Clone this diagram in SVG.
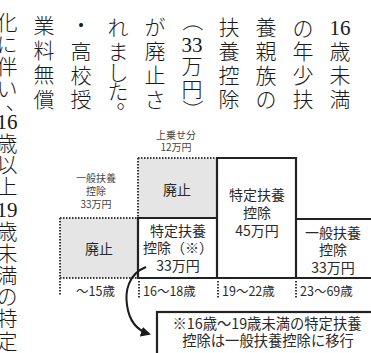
<svg xmlns="http://www.w3.org/2000/svg" width="371" height="353" viewBox="0 0 371 353">
<style>
.p{font-family:"Liberation Serif","Noto Sans CJK JP",serif;font-size:21px;font-weight:300;fill:#1a1a1a;text-anchor:middle;dominant-baseline:central}
.d{font-family:"Noto Sans CJK JP","Noto Sans",sans-serif;font-size:14px;fill:#2a2a2a;text-anchor:middle}
.s{font-size:10px;fill:#444}
.age{font-size:12.5px;text-anchor:start}
.note{font-size:14.3px}
.gray{fill:#e5e5e5;stroke:none}
.dot{stroke:#3a3a3a;stroke-width:2;stroke-dasharray:1.5 1.5;fill:none}
.solid{stroke:#222;stroke-width:2.2;fill:none}
.con{stroke:#1a1a1a;stroke-width:2;fill:none}
</style>
<defs>
<marker id="ah" viewBox="0 0 10 10" refX="8" refY="5" markerWidth="5" markerHeight="5" orient="auto" markerUnits="strokeWidth">
<path d="M0,0 L10,5 L0,10 z" fill="#1a1a1a"/>
</marker>
</defs>
<rect width="371" height="353" fill="#fff"/>

<g id="prose">
<text class="p"><tspan x="340" y="28">16</tspan><tspan x="340" y="52">歳</tspan><tspan x="340" y="76">未</tspan><tspan x="340" y="100">満</tspan></text>
<text class="p"><tspan x="303" y="29">の</tspan><tspan x="303" y="52">年</tspan><tspan x="303" y="76">少</tspan><tspan x="303" y="100">扶</tspan></text>
<text class="p"><tspan x="266" y="28">養</tspan><tspan x="266" y="52">親</tspan><tspan x="266" y="76">族</tspan><tspan x="266" y="100">の</tspan></text>
<text class="p"><tspan x="229" y="28">扶</tspan><tspan x="229" y="52">養</tspan><tspan x="229" y="76">控</tspan><tspan x="229" y="100">除</tspan></text>
<text class="p" x="192" y="21" transform="rotate(90 192 21)">（</text>
<text class="p"><tspan x="192" y="45">33</tspan><tspan x="192" y="67">万</tspan><tspan x="192" y="90">円</tspan></text>
<text class="p" x="192" y="110" transform="rotate(90 192 110)">）</text>
<text class="p"><tspan x="155" y="28">が</tspan><tspan x="155" y="52">廃</tspan><tspan x="155" y="76">止</tspan><tspan x="155" y="100">さ</tspan></text>
<text class="p"><tspan x="118" y="28">れ</tspan><tspan x="118" y="52">ま</tspan><tspan x="118" y="73">し</tspan><tspan x="118" y="92">た</tspan><tspan x="127" y="101">。</tspan></text>
<text class="p"><tspan x="81" y="26">・</tspan><tspan x="81" y="52">高</tspan><tspan x="81" y="76">校</tspan><tspan x="81" y="100">授</tspan></text>
<text class="p"><tspan x="44" y="26">業</tspan><tspan x="44" y="51">料</tspan><tspan x="44" y="75">無</tspan><tspan x="44" y="100">償</tspan></text>
<text class="p"><tspan x="7" y="23">化</tspan><tspan x="7" y="45">に</tspan><tspan x="7" y="67">伴</tspan><tspan x="7" y="89">い</tspan><tspan x="16" y="102">、</tspan><tspan x="7" y="122">16</tspan><tspan x="7" y="144">歳</tspan><tspan x="7" y="165">以</tspan><tspan x="7" y="187">上</tspan><tspan x="7" y="210">19</tspan><tspan x="7" y="232">歳</tspan><tspan x="7" y="254">未</tspan><tspan x="7" y="276">満</tspan><tspan x="7" y="297">の</tspan><tspan x="7" y="319">特</tspan><tspan x="7" y="342">定</tspan></text>
</g>

<g id="label-general-abolished">
<text class="d s"><tspan x="96" y="182">一般扶養</tspan><tspan x="96" y="195">控除</tspan><tspan x="96" y="208">33万円</tspan></text>
</g>
<g id="label-surcharge">
<text class="d s"><tspan x="176" y="139">上乗せ分</tspan><tspan x="176" y="151">12万円</tspan></text>
</g>

<g id="box-abolished-under15">
<rect class="gray" x="60" y="218" width="78" height="60"/>
<path class="dot" d="M60,218 H138 M60,218 V296 M60,278 H138"/>
<text class="d" x="99" y="254">廃止</text>
</g>

<g id="box-abolished-surcharge">
<rect class="gray" x="138" y="158" width="79" height="60"/>
<path class="dot" d="M138,158 H217 M138,158 V218"/>
<text class="d" x="177" y="195">廃止</text>
</g>

<g id="box-specific-16-18">
<path class="solid" d="M138,218 H217 M138,217 V279"/>
<text class="d"><tspan x="178" y="236">特定扶養</tspan><tspan x="178" y="253">控除（※）</tspan><tspan x="178" y="271">33万円</tspan></text>
</g>

<g id="box-specific-19-22">
<path class="solid" d="M217,158 H296 M217,157 V279 M296,157 V279"/>
<text class="d"><tspan x="257" y="200">特定扶養</tspan><tspan x="257" y="218">控除</tspan><tspan x="257" y="236">45万円</tspan></text>
</g>

<g id="box-general-23-69">
<path class="solid" d="M296,219 H371 M138,278 H371"/>
<text class="d"><tspan x="333" y="238">一般扶養</tspan><tspan x="333" y="255">控除</tspan><tspan x="333" y="273">33万円</tspan></text>
</g>

<g id="age-scale">
<path class="dot" d="M139,281 V298 M218,281 V298 M296,281 V298"/>
<text class="d age" x="76" y="296">～15歳</text>
<text class="d age" x="143" y="296">16～18歳</text>
<text class="d age" x="222" y="296">19～22歳</text>
<text class="d age" x="300" y="296">23～69歳</text>
</g>

<g id="note">
<rect x="157" y="312" width="230" height="60" fill="#fff" stroke="#222" stroke-width="2.2"/>
<text class="d note"><tspan x="267" y="329">※16歳～19歳未満の特定扶養</tspan><tspan x="268" y="346">控除は一般扶養控除に移行</tspan></text>
</g>

<g id="connectors">
<path class="con" d="M146,267 C128,274 125,292 127,305 C129,320 136,330 149,334" marker-end="url(#ah)"/>
</g>
</svg>
